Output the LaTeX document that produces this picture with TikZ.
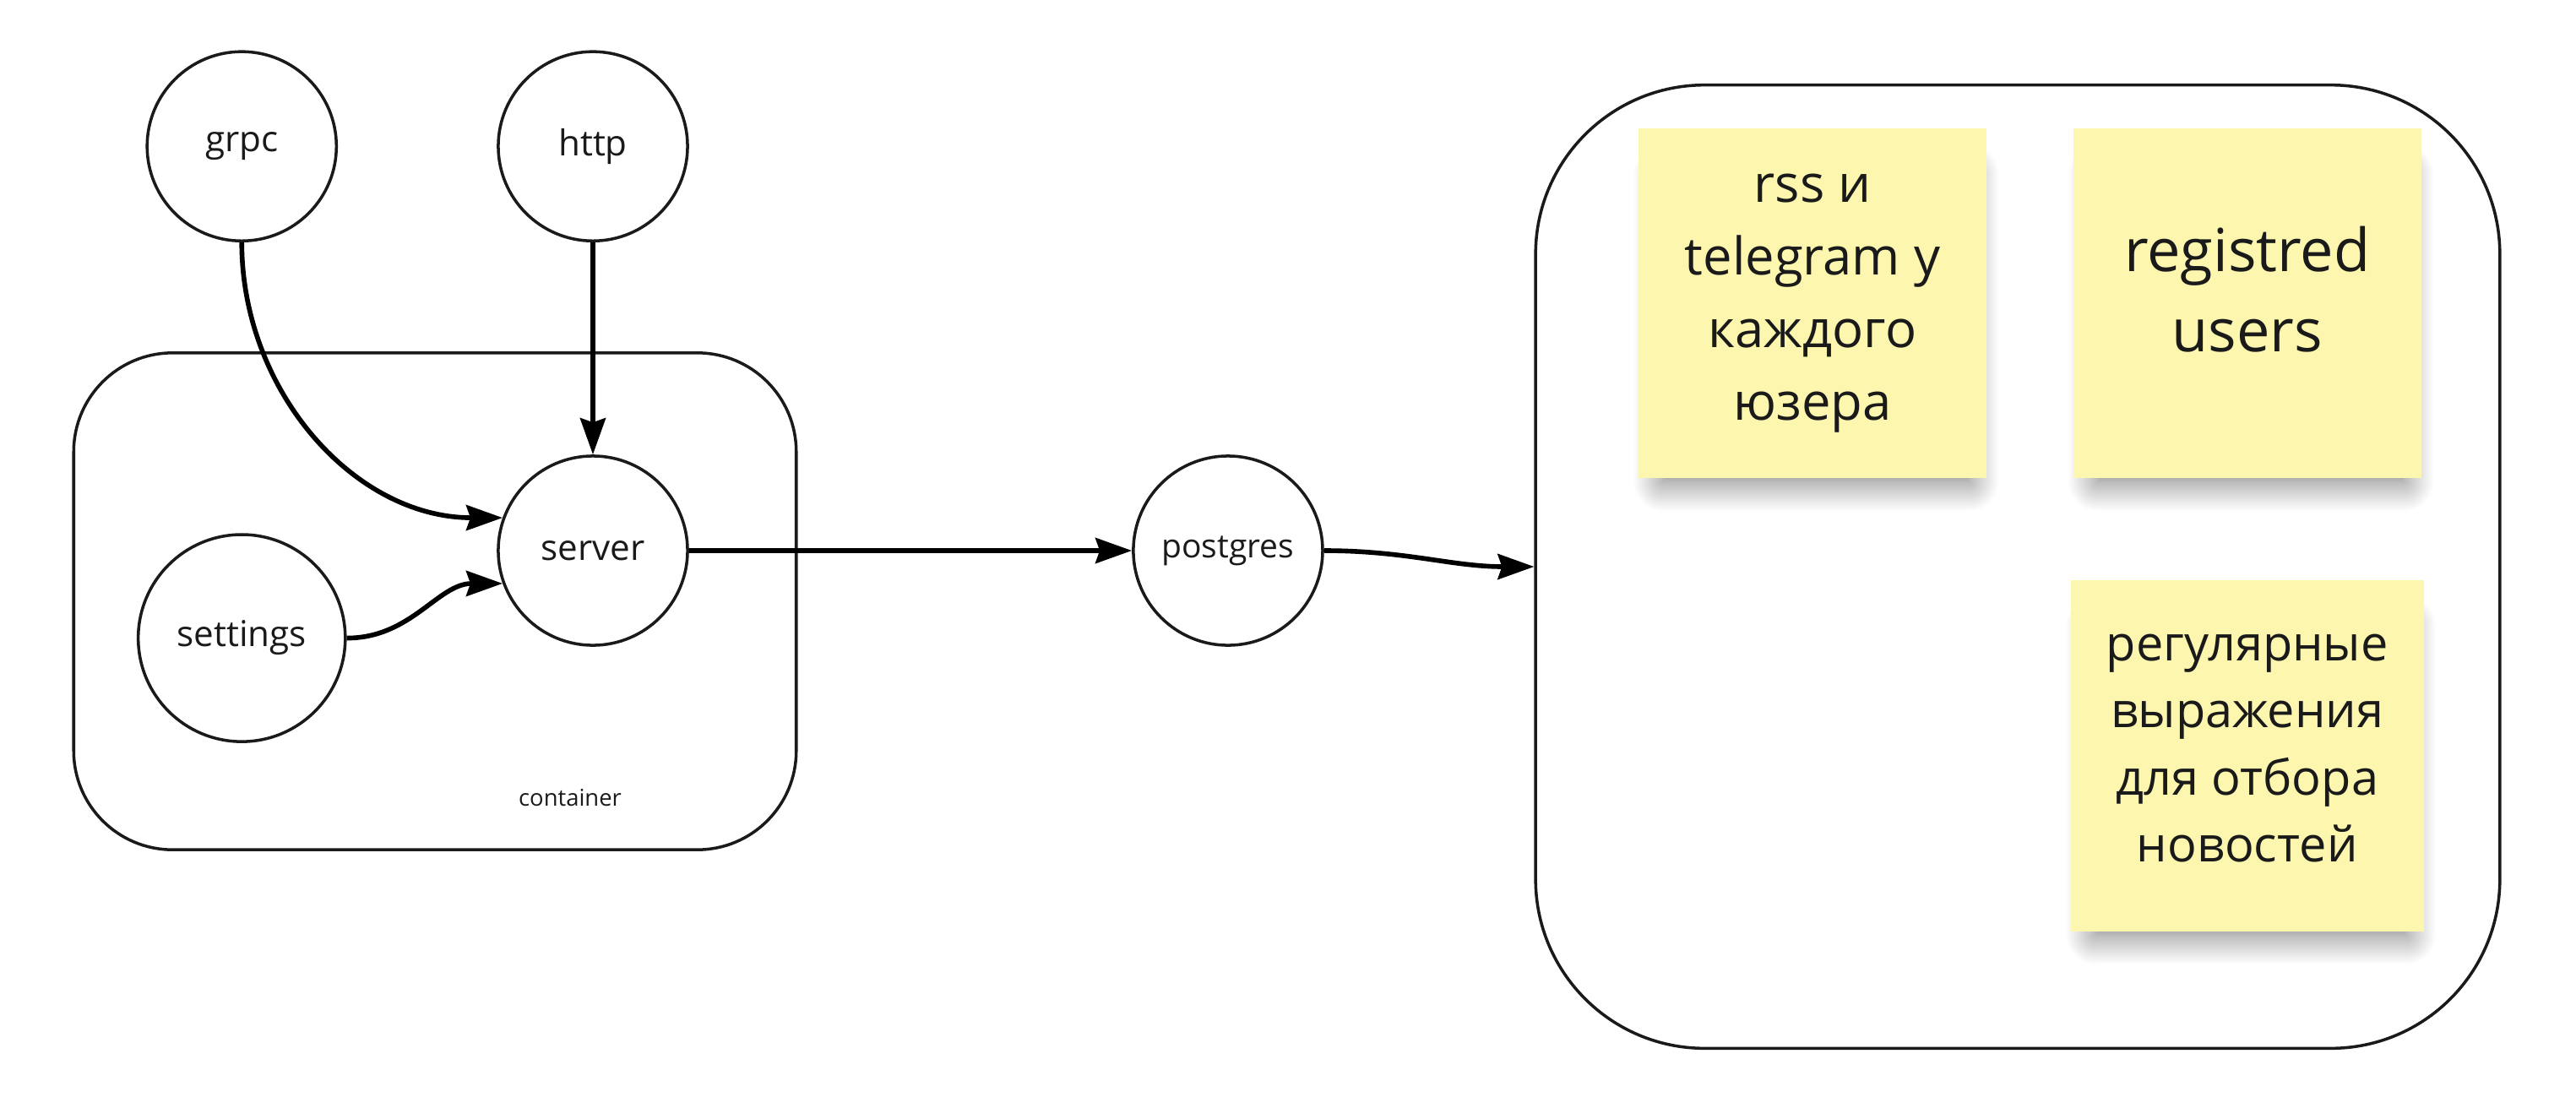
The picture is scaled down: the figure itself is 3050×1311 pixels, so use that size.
\documentclass[tikz,border=0pt]{standalone}
\usepackage{fontspec}
\setmainfont{Open Sans}
\usepackage{tikz}
\usetikzlibrary{positioning, arrows.meta, shadows.blur}
\definecolor{stickyyellow}{HTML}{FDF6AE}
\definecolor{inkgray}{HTML}{1A1A1A}

\begin{document}
\begin{tikzpicture}[x=0.01cm, y=-0.01cm,
    roundnode/.style={circle, draw=inkgray, line width=1pt, fill=white, text=inkgray,
      minimum size=2.24cm, inner sep=0pt, font=\fontsize{12}{14}\selectfont},
    frame/.style={rectangle, draw=inkgray, line width=1pt},
    sticky/.style={rectangle, fill=stickyyellow, text=inkgray, align=center,
      minimum width=4.12cm, minimum height=4.14cm,
      blur shadow={shadow xshift=0.05cm, shadow yshift=-0.33cm, shadow scale=0.88,
        shadow opacity=55, shadow blur radius=0.4cm, shadow blur steps=20}},
    conn/.style={line width=1.6pt, draw=black, -{Stealth[length=0.43cm, width=0.3cm, inset=0.05cm]}}]
  \useasboundingbox (0,0) rectangle (3050,1311);

  % frames
  \node[frame, rounded corners=1.17cm, minimum width=8.55cm, minimum height=5.88cm] (container) at (515,712) {};
  \node[font=\fontsize{7.8}{9}\selectfont, text=inkgray] (containerlabel) at (675,945) {container};
  \node[frame, rounded corners=2cm, minimum width=11.41cm, minimum height=11.40cm] (store) at (2389,671) {};

  % services
  \node[roundnode] (server) at (702,652) {server};
  \node[roundnode, right=5.24cm of server, font=\fontsize{11.1}{13}\selectfont] (postgres) {postgres};
  \node[roundnode, above=2.51cm of server] (http) {http};
  \node[roundnode, left=1.88cm of http] (grpc) {grpc};
  \node[roundnode, below=3.44cm of grpc, minimum size=2.45cm] (settings) {settings};

  % notes
  \node[sticky, font=\fontsize{17.5}{24.5}\selectfont] (feeds) at (2146,359) {rss и\\telegram у\\каждого\\юзера};
  \node[sticky, right=1.01cm of feeds, text depth=0.34cm, font=\fontsize{20}{27}\selectfont] (users) {registred\\users};
  \node[sticky, below=1.19cm of users, minimum width=4.18cm, minimum height=4.16cm, text depth=0.18cm,
    font=\fontsize{16.4}{22.5}\selectfont] (regex) {регулярные\\выражения\\для отбора\\новостей};

  \draw[conn] (grpc.south) to[out=-90, in=180] (server.160);
  \draw[conn] (http.south) -- (server.north);
  \draw[conn] (settings.east) to[out=0, in=180] (server.200);
  \draw[conn] (server.east) -- (postgres.west);
  \draw[conn] (postgres.east) to[out=0, in=180] (store.west);
\end{tikzpicture}
\end{document}
